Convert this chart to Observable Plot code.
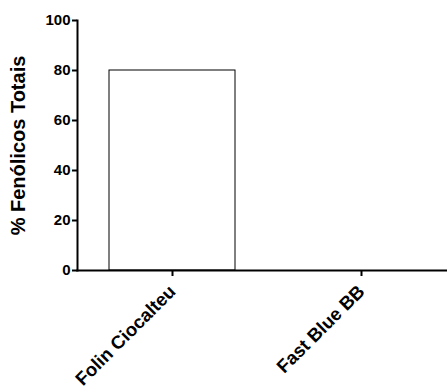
<!DOCTYPE html>
<html>
<head>
<meta charset="utf-8">
<script src="https://cdn.jsdelivr.net/npm/d3@7"></script>
<script src="https://cdn.jsdelivr.net/npm/@observablehq/plot@0.6"></script>
<style>
  html, body { margin: 0; padding: 0; background: #fff; }
  #chart svg { font-family: 'Liberation Sans', Arial, sans-serif; font-weight: bold; color: #000; background: #fff; overflow: visible; }
  #chart svg text { font-weight: bold; fill: #000; }
  #chart svg g[aria-label="y-axis tick label"] text { font-size: 15px !important; }
  #chart svg g[aria-label="x-axis tick label"] text { font-size: 18.5px !important; }
  #chart svg g[aria-label="y-axis label"] text { font-size: 20px !important; }
</style>
</head>
<body>
<div id="chart"></div>
<script>
const categories = ["Folin Ciocalteu", "Fast Blue BB"];
const values = [80, 0];
const yTicks = [0, 20, 40, 60, 80, 100];
const yLabel = "% Fenólicos Totais";

const data = categories.map((c, i) => ({category: c, value: values[i]}));

const chart = Plot.plot({
  width: 447,
  height: 389,
  marginLeft: 77,
  marginRight: 0,
  marginTop: 20,
  marginBottom: 119,
  x: {domain: categories, range: [109, 424], paddingInner: 1/3, paddingOuter: 0},
  y: {domain: [0, 100]},
  marks: [
    Plot.barY(data, {x: "category", y: "value", fill: "white", stroke: "black", strokeWidth: 1}),
    Plot.frame({anchor: "left", stroke: "black", strokeWidth: 2}),
    Plot.frame({anchor: "bottom", stroke: "black", strokeWidth: 2}),
    Plot.axisY({ticks: yTicks, tickSize: 5, tickPadding: 2, strokeWidth: 2, label: yLabel, labelAnchor: "center", labelArrow: "none", labelOffset: 67}),
    Plot.axisX({tickSize: 6, strokeWidth: 2, tickRotate: -45, tickPadding: 12, label: null})
  ]
});
document.getElementById("chart").appendChild(chart);
</script>
</body>
</html>
